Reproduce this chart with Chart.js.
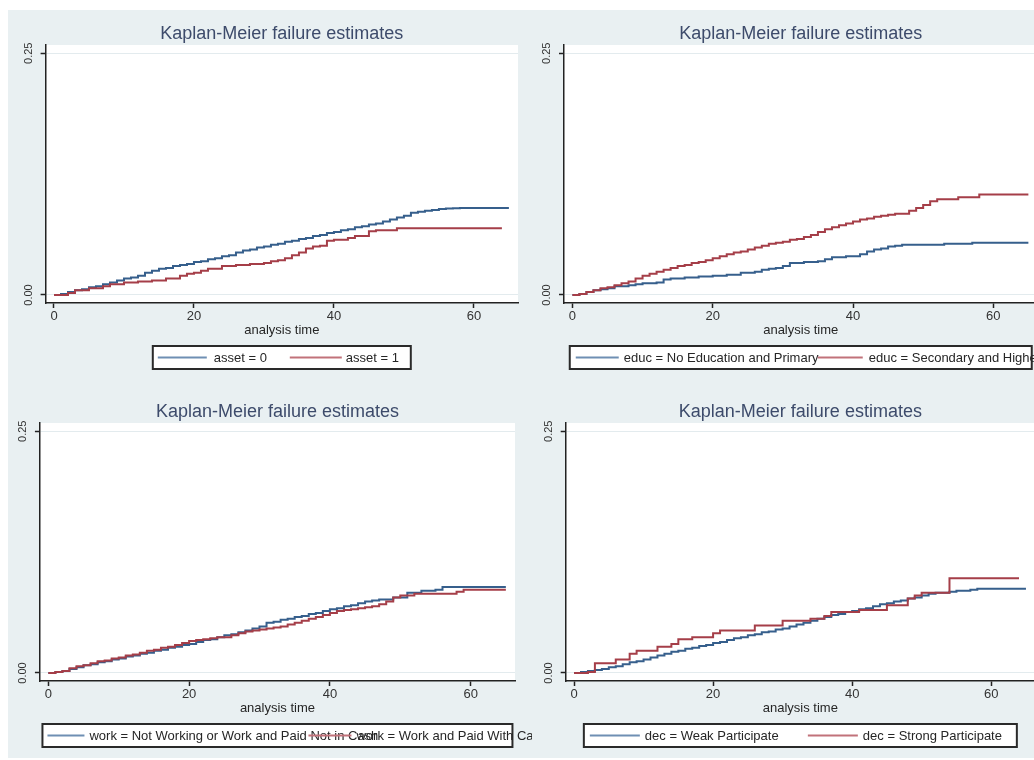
<!DOCTYPE html>
<html>
<head>
<meta charset="utf-8">
<script src="https://cdn.jsdelivr.net/npm/chart.js@4.4.1/dist/chart.umd.min.js"></script>
<style>
html, body { margin: 0; padding: 0; width: 1034px; height: 760px; overflow: hidden; background: #fff; }
#bg { position: absolute; left: 8px; top: 10px; width: 1026px; height: 748px; background: #e9f0f2; }
canvas { position: absolute; }
</style>
</head>
<body>
<div id="bg"></div>
<canvas id="km1" width="512" height="378" style="left:8px;top:10px"></canvas>
<canvas id="km2" width="522" height="378" style="left:518px;top:10px"></canvas>
<canvas id="km4" width="522" height="370" style="left:518px;top:388px"></canvas>
<canvas id="km3" width="524" height="370" style="left:8px;top:388px"></canvas>
<script>
// datos (tiempo en meses, proporcion acumulada de fallos)
const xTicks = [0, 20, 40, 60];
const yTicks = [0, 0.25];

// asset
const timeAsset0 = [0,1,2,3,4,5,6,7,8,9,10,11,12,13,14,15,16,17,18,19,20,21,22,23,24,25,26,27,28,29,30,31,32,33,34,35,36,37,38,39,40,41,42,43,44,45,46,47,48,49,50,51,52,53,54,55,56,57,58,65];
const failAsset0 = [0,0.001,0.003,0.005,0.006,0.008,0.009,0.011,0.013,0.015,0.017,0.018,0.020,0.023,0.025,0.027,0.028,0.030,0.031,0.032,0.034,0.035,0.037,0.038,0.040,0.041,0.044,0.046,0.047,0.049,0.050,0.052,0.053,0.055,0.056,0.058,0.059,0.061,0.062,0.064,0.065,0.067,0.068,0.070,0.071,0.073,0.074,0.076,0.078,0.080,0.082,0.085,0.086,0.087,0.088,0.089,0.0893,0.0896,0.090,0.090];
const timeAsset1 = [0,2,3,5,7,8,10,12,14,16,18,19,20,21,22,24,26,28,30,31,32,33,34,35,36,37,38,39,40,42,43,45,46,48,49,64];
const failAsset1 = [0,0.002,0.005,0.007,0.009,0.011,0.013,0.014,0.015,0.017,0.020,0.022,0.023,0.025,0.027,0.030,0.031,0.032,0.033,0.035,0.036,0.038,0.041,0.044,0.048,0.050,0.051,0.056,0.057,0.059,0.061,0.066,0.067,0.067,0.069,0.069];

// educ
const timeEduc1 = [0,1,2,3,4,5,6,8,9,10,12,13,14,16,18,20,22,24,26,27,28,29,30,31,33,35,36,37,39,41,42,43,44,45,46,47,53,57,65];
const failEduc1 = [0,0.001,0.003,0.005,0.006,0.007,0.009,0.010,0.011,0.012,0.013,0.016,0.017,0.018,0.019,0.020,0.021,0.023,0.024,0.026,0.027,0.028,0.030,0.033,0.034,0.035,0.037,0.039,0.040,0.042,0.045,0.047,0.048,0.050,0.051,0.052,0.053,0.054,0.054];
const timeEduc2 = [0,1,2,3,4,5,6,7,8,9,10,11,12,13,14,15,16,17,18,19,20,21,22,23,24,25,26,27,28,29,30,31,32,33,34,35,36,37,38,39,40,41,42,43,44,45,46,48,49,50,51,52,55,58,65];
const failEduc2 = [0,0.001,0.003,0.005,0.007,0.008,0.010,0.012,0.014,0.017,0.020,0.022,0.024,0.026,0.028,0.030,0.031,0.033,0.034,0.036,0.038,0.040,0.042,0.044,0.045,0.047,0.049,0.051,0.053,0.054,0.055,0.057,0.058,0.060,0.062,0.065,0.068,0.070,0.072,0.074,0.076,0.078,0.079,0.081,0.082,0.083,0.084,0.087,0.090,0.093,0.097,0.099,0.101,0.104,0.104];

// work
const timeWork1 = [0,1,2,3,4,5,6,7,8,9,10,11,12,13,14,15,16,17,18,19,20,21,22,23,24,25,26,27,28,29,30,31,32,33,34,35,36,37,38,39,40,41,42,43,44,45,46,47,49,51,53,55,56,65];
const failWork1 = [0,0.001,0.002,0.004,0.006,0.008,0.009,0.011,0.012,0.014,0.015,0.017,0.018,0.020,0.021,0.023,0.024,0.026,0.027,0.029,0.030,0.032,0.034,0.035,0.037,0.039,0.040,0.042,0.044,0.046,0.048,0.052,0.053,0.055,0.056,0.058,0.059,0.061,0.062,0.064,0.066,0.067,0.069,0.070,0.072,0.074,0.075,0.076,0.078,0.083,0.085,0.086,0.089,0.089];
const timeWork2 = [0,1,2,3,4,5,6,7,8,9,10,11,12,13,14,15,16,17,18,19,20,21,22,23,24,26,27,28,29,30,31,32,33,34,35,36,37,38,39,40,41,42,43,44,45,46,47,48,49,50,52,58,59,65];
const failWork2 = [0,0.001,0.002,0.005,0.007,0.008,0.010,0.012,0.013,0.015,0.016,0.018,0.019,0.021,0.023,0.024,0.026,0.027,0.029,0.031,0.033,0.034,0.035,0.036,0.037,0.039,0.041,0.043,0.044,0.045,0.046,0.047,0.048,0.050,0.052,0.054,0.056,0.058,0.060,0.062,0.064,0.065,0.066,0.067,0.068,0.069,0.071,0.074,0.078,0.080,0.082,0.084,0.086,0.086];

// dec
const timeDec1 = [0,1,2,3,4,5,6,7,8,9,10,11,12,13,14,15,16,17,18,19,20,21,22,23,24,25,26,27,28,29,30,31,32,33,34,35,36,37,38,39,40,41,42,43,44,45,46,47,48,49,50,51,52,54,55,57,58,65];
const failDec1 = [0,0.001,0.002,0.003,0.004,0.006,0.007,0.009,0.011,0.012,0.014,0.016,0.018,0.020,0.022,0.023,0.025,0.026,0.028,0.029,0.031,0.032,0.034,0.036,0.037,0.039,0.040,0.042,0.043,0.045,0.046,0.048,0.050,0.052,0.054,0.056,0.058,0.060,0.061,0.063,0.064,0.066,0.067,0.069,0.071,0.072,0.074,0.075,0.077,0.078,0.080,0.082,0.083,0.084,0.085,0.086,0.087,0.087];
const timeDec2 = [0,2,3,6,8,9,12,14,15,17,20,21,26,30,34,36,37,41,45,48,49,50,54,64];
const failDec2 = [0,0.001,0.010,0.014,0.020,0.023,0.027,0.030,0.035,0.037,0.041,0.044,0.049,0.054,0.056,0.059,0.063,0.065,0.070,0.077,0.080,0.083,0.098,0.098];

const labelsAsset = ['asset = 0', 'asset = 1'];
const labelsEduc = ['educ = No Education and Primary', 'educ = Secondary and Higher'];
const labelsWork = ['work = Not Working or Work and Paid Not in Cash', 'work = Work and Paid With Cash'];
const labelsDec = ['dec = Weak Participate', 'dec = Strong Participate'];

// colores tipo Stata s2color
const lineColors = ['#365f8c', '#a53e48'];
const keyColors = ['#6f8fb3', '#c1727a'];

Chart.defaults.font.family = '"Liberation Sans", Arial, sans-serif';

function toPoints(times, vals) {
    return times.map((t, i) => ({ x: t, y: vals[i] }));
}

// fondo blanco de la zona del grafico
const plotBackground = {
    id: 'plotBackground',
    beforeDraw(chart) {
        const { ctx, chartArea: a } = chart;
        ctx.save();
        ctx.fillStyle = '#ffffff';
        ctx.fillRect(a.left, a.top, a.right - a.left, a.bottom - a.top);
        ctx.restore();
    }
};

// leyenda en caja al estilo Stata (columnas fijas, el texto puede solaparse)
function makeLegend(cfg) {
    return {
        id: 'stataLegend',
        afterDraw(chart) {
            const { ctx, chartArea: a } = chart;
            const mid = (a.left + a.right) / 2;
            const x0 = mid - cfg.width / 2;
            const y0 = a.bottom + 43;
            const h = 23;
            ctx.save();
            ctx.fillStyle = '#ffffff';
            ctx.fillRect(x0, y0, cfg.width, h);
            ctx.lineWidth = 2;
            ctx.strokeStyle = '#2a2a2a';
            ctx.strokeRect(x0, y0, cfg.width, h);
            ctx.font = '13px "Liberation Sans", Arial, sans-serif';
            ctx.textBaseline = 'middle';
            chart.data.datasets.forEach((ds, i) => {
                const k = cfg.keys[i];
                ctx.strokeStyle = keyColors[i];
                ctx.lineWidth = 2;
                ctx.beginPath();
                ctx.moveTo(x0 + k[0], y0 + h / 2);
                ctx.lineTo(x0 + k[1], y0 + h / 2);
                ctx.stroke();
                ctx.fillStyle = '#262626';
                ctx.fillText(ds.label, x0 + k[2], y0 + h / 2 + 1);
            });
            ctx.restore();
        }
    };
}

function drawKM(id, series, labels, p) {
    const ctx = document.getElementById(id).getContext('2d');
    const datasets = series.map((s, i) => ({
        label: labels[i],
        data: toPoints(s[0], s[1]),
        borderColor: lineColors[i],
        borderWidth: 2,
        pointRadius: 0,
        stepped: true,
        fill: false,
        order: 1 - i
    }));

    return new Chart(ctx, {
        type: 'line',
        data: { datasets: datasets },
        plugins: [plotBackground, makeLegend(p.legend)],
        options: {
            responsive: false,
            animation: false,
            events: [],
            layout: { padding: { left: 0, right: p.padRight, top: 0, bottom: p.padBottom } },
            plugins: {
                legend: { display: false },
                tooltip: { enabled: false },
                title: {
                    display: true,
                    fullSize: false,
                    text: 'Kaplan-Meier failure estimates',
                    color: '#3d4b6b',
                    font: { size: 18, weight: 'normal' },
                    padding: { top: 13.4, bottom: 0 }
                }
            },
            scales: {
                x: {
                    type: 'linear',
                    min: -1.2,
                    max: 66.3,
                    afterBuildTicks: s => { s.ticks = xTicks.map(v => ({ value: v })); },
                    afterFit: s => { s.height = 35; },
                    grid: { drawOnChartArea: false, drawTicks: true, tickLength: 5, tickColor: '#222', tickWidth: 1.5 },
                    border: { color: '#222', width: 1.5 },
                    ticks: { font: { size: 13 }, color: '#333', padding: 1, maxRotation: 0, autoSkip: false },
                    title: { display: true, text: 'analysis time', font: { size: 13 }, color: '#262626', padding: 0 }
                },
                y: {
                    min: -0.0083,
                    max: 0.2585,
                    afterBuildTicks: s => { s.ticks = yTicks.map(v => ({ value: v })); },
                    afterFit: s => { s.width = p.yWidth; },
                    grid: { color: '#e3ebee', lineWidth: 1, drawTicks: true, tickLength: 5, tickColor: '#222', tickWidth: 1.5 },
                    border: { color: '#222', width: 1.5 },
                    ticks: {
                        font: { size: 11 }, color: '#333',
                        minRotation: 90, maxRotation: 90,
                        crossAlign: 'center', padding: 1,
                        callback: v => Number(v).toFixed(2)
                    }
                }
            }
        }
    });
}

drawKM('km1', [[timeAsset0, failAsset0], [timeAsset1, failAsset1]], labelsAsset, {
    yWidth: 37.6, padRight: 2, padBottom: 50,
    legend: { width: 258, keys: [[5, 54, 61], [137, 189, 193]] }
});
drawKM('km2', [[timeEduc1, failEduc1], [timeEduc2, failEduc2]], labelsEduc, {
    yWidth: 46, padRight: 2.5, padBottom: 50,
    legend: { width: 462, keys: [[6, 49, 54], [248, 293, 299]] }
});
drawKM('km3', [[timeWork1, failWork1], [timeWork2, failWork2]], labelsWork, {
    yWidth: 31.9, padRight: 17, padBottom: 42,
    legend: { width: 470, keys: [[5, 42, 47], [266, 309, 314]] }
});
drawKM('km4', [[timeDec1, failDec1], [timeDec2, failDec2]], labelsDec, {
    yWidth: 47.7, padRight: 5, padBottom: 42,
    legend: { width: 433, keys: [[6, 56, 61], [224, 274, 279]] }
});
</script>
</body>
</html>
